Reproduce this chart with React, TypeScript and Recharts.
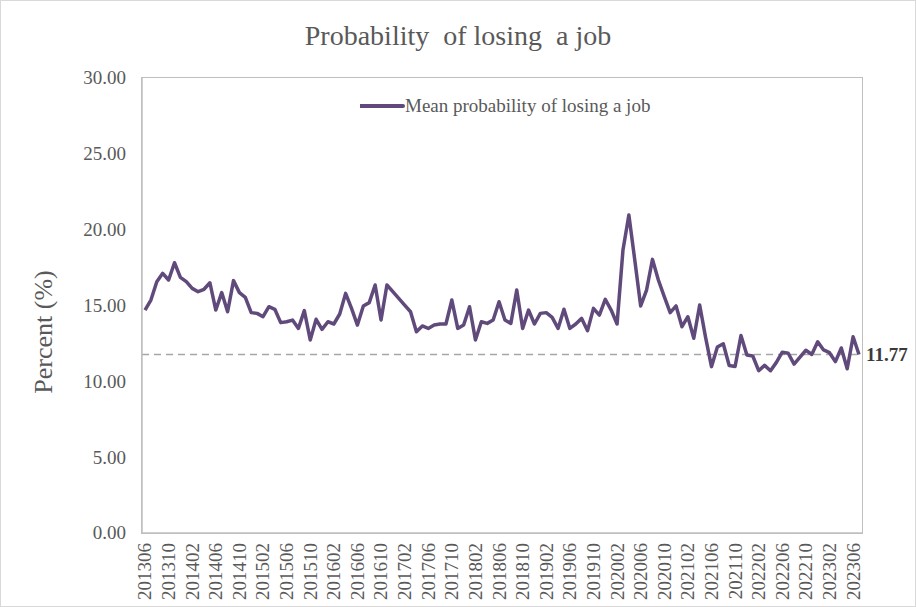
import React from "react";
import {
  LineChart,
  Line,
  XAxis,
  YAxis,
  Legend,
  ReferenceLine,
} from "recharts";

const FONT = "'Liberation Serif', 'Times New Roman', serif";
const TEXT_GRAY = "#595959";
const FRAME = "#BFBFBF";
const LINE_COLOR = "#604A7B";

// meses de 201306 a 202307
const START_YEAR = 2013;
const START_MONTH = 6;

const PROB_VALUES = [
  14.7, 15.36, 16.57, 17.12, 16.68, 17.82, 16.86, 16.57, 16.13, 15.91,
  16.07, 16.5, 14.7, 15.85, 14.59, 16.64, 15.85, 15.54, 14.53, 14.48,
  14.26, 14.92, 14.75, 13.87, 13.93, 14.04, 13.49, 14.66, 12.73, 14.09,
  13.43, 13.93, 13.78, 14.44, 15.8, 14.81, 13.71, 14.97, 15.19, 16.35,
  14.04, 16.35, 15.91, 15.47, 15.03, 14.59, 13.27, 13.65, 13.49, 13.71,
  13.78, 13.78, 15.36, 13.49, 13.71, 14.92, 12.73, 13.93, 13.82, 14.04,
  15.25, 14.04, 13.82, 16.02, 13.49, 14.7, 13.78, 14.48, 14.53, 14.22,
  13.49, 14.75, 13.49, 13.78, 14.15, 13.34, 14.81, 14.37, 15.41, 14.7,
  13.78, 18.66, 20.97, 18.0, 14.97, 16.02, 18.04, 16.68, 15.58, 14.53,
  14.97, 13.6, 14.26, 12.84, 15.03, 12.9, 10.97, 12.26, 12.48, 11.04,
  10.98, 13.02, 11.74, 11.67, 10.7, 11.05, 10.7, 11.25, 11.92, 11.85,
  11.14, 11.6, 12.05, 11.77, 12.61, 12.07, 11.89, 11.3, 12.2, 10.83,
  12.94, 11.77,
];

const MEAN_LINE = 11.77;
const Y_TICKS = [0, 5, 10, 15, 20, 25, 30];

function monthLabel(i: number) {
  const total = START_MONTH - 1 + i;
  const y = START_YEAR + Math.floor(total / 12);
  const m = (total % 12) + 1;
  return `${y}${m < 10 ? "0" + m : m}`;
}

const chartRows = PROB_VALUES.map((v, i) => ({ month: monthLabel(i), prob: v }));

function XTick(props: any) {
  const { x, y, payload } = props;
  return (
    <text
      x={x}
      y={y}
      transform={`rotate(-90, ${x}, ${y})`}
      textAnchor="end"
      dy="0.34em"
      fontSize={19}
      fontFamily={FONT}
      fill={TEXT_GRAY}
    >
      {payload.value}
    </text>
  );
}

function YTick(props: any) {
  const { x, y, payload } = props;
  return (
    <text
      x={x}
      y={y}
      textAnchor="end"
      dy="0.34em"
      fontSize={19}
      fontFamily={FONT}
      fill={TEXT_GRAY}
    >
      {Number(payload.value).toFixed(2)}
    </text>
  );
}

function AxisTitle() {
  return (
    <text
      x={52}
      y={332}
      transform="rotate(-90, 52, 332)"
      textAnchor="middle"
      fontSize={26}
      fontFamily={FONT}
      fill={TEXT_GRAY}
    >
      Percent (%)
    </text>
  );
}

function MeanLabel(props: any) {
  const { viewBox } = props;
  const x = viewBox.x + viewBox.width + 4;
  return (
    <text
      x={x}
      y={viewBox.y}
      dy="0.34em"
      fontSize={19}
      fontWeight="bold"
      fontFamily={FONT}
      fill="#3a3a3a"
    >
      {MEAN_LINE.toFixed(2)}
    </text>
  );
}

function LegendBox() {
  return (
    <div style={{ display: "flex", alignItems: "center", whiteSpace: "nowrap" }}>
      <svg width={45} height={8}>
        <line x1={0} y1={4} x2={43} y2={4} stroke={LINE_COLOR} strokeWidth={4} strokeLinecap="round" />
      </svg>
      <span
        style={{
          fontFamily: "'Liberation Serif', serif",
          fontSize: 19,
          lineHeight: "22px",
          color: TEXT_GRAY,
        }}
      >
        Mean probability of losing a job
      </span>
    </div>
  );
}

export default function App() {
  return (
    <div style={{ position: "absolute", left: 0, top: 0, width: 916, height: 607, background: "#fff" }}>
      <LineChart
        width={916}
        height={607}
        data={chartRows}
        margin={{ top: 78, right: 54, bottom: 4, left: 0 }}
      >
        <XAxis
          dataKey="month"
          interval={3}
          padding={{ left: 3, right: 3 }}
          height={70}
          tickSize={0}
          tickMargin={10}
          tickLine={false}
          axisLine={{ stroke: FRAME, strokeWidth: 1.5 }}
          tick={<XTick />}
        />
        <YAxis
          domain={[0, 30]}
          ticks={Y_TICKS}
          width={142}
          tickSize={0}
          tickMargin={16}
          tickLine={false}
          axisLine={{ stroke: FRAME, strokeWidth: 1.5 }}
          tick={<YTick />}
          label={<AxisTitle />}
        />
        <ReferenceLine
          y={MEAN_LINE}
          stroke="#A6A6A6"
          strokeWidth={1.5}
          strokeDasharray="7 5"
          label={<MeanLabel />}
        />
        <Legend
          layout="vertical"
          align="center"
          verticalAlign="middle"
          wrapperStyle={{ position: "absolute", top: 95, left: 360, width: "auto" }}
          content={() => <LegendBox />}
        />
        <Line
          type="linear"
          dataKey="prob"
          name="Mean probability of losing a job"
          stroke={LINE_COLOR}
          strokeWidth={3.5}
          strokeLinejoin="round"
          dot={false}
          activeDot={false}
          isAnimationActive={false}
        />
      </LineChart>
      {/* cadre de la zone de tracé */}
      <div
        style={{
          position: "absolute",
          left: 141.25,
          top: 77.25,
          width: 721.5,
          height: 456.5,
          boxSizing: "border-box",
          border: `1.5px solid ${FRAME}`,
          pointerEvents: "none",
        }}
      />
      <div
        style={{
          position: "absolute",
          top: 18,
          left: 0,
          width: 916,
          textAlign: "center",
          fontFamily: FONT,
          fontSize: 28,
          color: TEXT_GRAY,
          lineHeight: "36px",
          whiteSpace: "pre",
        }}
      >
        {"Probability  of losing  a job"}
      </div>
      <div
        style={{
          position: "absolute",
          inset: 0,
          border: "1.5px solid #D9D9D9",
          pointerEvents: "none",
        }}
      />
    </div>
  );
}
